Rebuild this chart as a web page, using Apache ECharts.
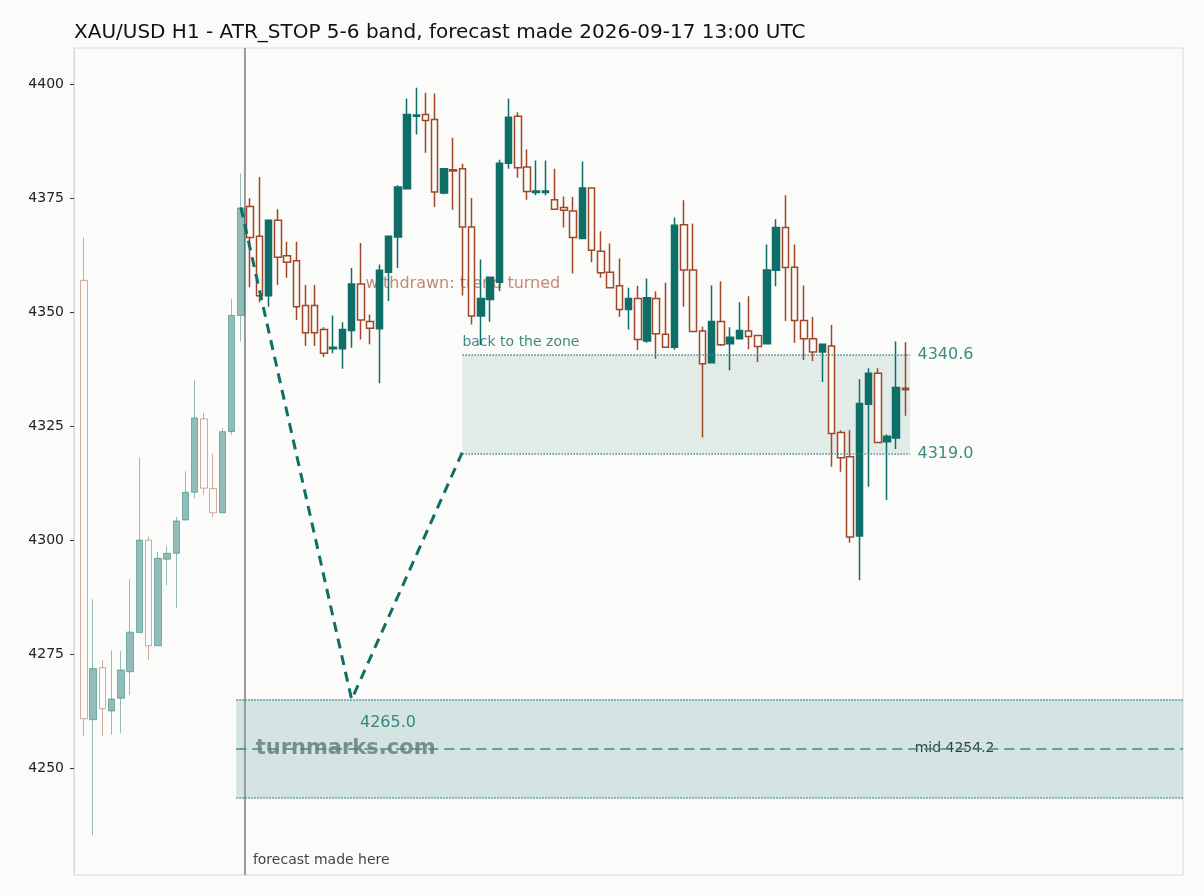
<!DOCTYPE html>
<html><head><meta charset="utf-8">
<script src="https://cdn.jsdelivr.net/npm/echarts@6/dist/echarts.min.js"></script>
<style>html,body{margin:0;padding:0;background:#fbfbf9}#c{width:1204px;height:896px}</style>
</head><body><div id="c"></div>
<script>
const title = "XAU/USD H1 - ATR_STOP 5-6 band, forecast made 2026-09-17 13:00 UTC";
const opens  = [4357,4260.6,4272,4262.5,4265.3,4271.1,4279.7,4300,4276.8,4295.8,4297.1,4304.4,4310.5,4326.6,4311.3,4306,4323.8,4349.3,
 4373.2,4366.7,4353.6,4370.2,4362.4,4361.3,4351.5,4351.5,4346.2,4342,4342,4346,4356.2,4348,4346.4,4358.8,4366.5,4377.1,4393,4393.4,4392.3,4376.2,4381.3,4381.5,4368.7,4349.2,4352.8,4356.6,4382.7,4393,4381.9,4376.3,4376.3,4374.7,4373,4372.2,4366.2,4377.3,4363.4,4358.8,4355.8,4350.6,4353,4343.7,4353,4345.2,4342.3,4369.2,4359.3,4345.9,4338.9,4348,4343.1,4344.2,4345.9,4344.9,4343.1,4359.2,4368.6,4359.9,4348.2,4344.2,4341.3,4342.6,4323.6,4318.3,4300.9,4329.8,4336.6,4321.6,4322.4,4333.3];
const closes = [4260.8,4271.8,4263,4265.1,4271.5,4279.8,4300,4276.8,4296,4297.1,4304.2,4310.5,4326.8,4311.4,4306,4323.8,4349.3,4372.9,
 4366.4,4353.6,4370.2,4362.1,4361,4351.2,4345.5,4345.5,4341,4342.3,4346.2,4356.2,4348.3,4346.5,4359.2,4366.7,4377.5,4393.4,4393.3,4392.1,4376.4,4381.5,4381,4368.7,4349.2,4353,4357.7,4382.7,4392.8,4381.7,4376.5,4376.6,4376.6,4372.6,4372.4,4366.4,4377.3,4363.6,4358.7,4355.4,4350.6,4353,4344,4353.2,4345.3,4342.3,4369.1,4359.3,4345.8,4338.7,4348,4342.9,4344.5,4346,4344.7,4342.5,4359.3,4368.6,4359.8,4348.2,4344.2,4341.3,4343,4323.4,4318.1,4300.7,4330,4336.6,4321.4,4322.8,4333.5,4333];
const lows   = [4257,4235.2,4257,4257.3,4257.7,4266,4279.7,4273.7,4276.8,4290.1,4285.1,4304.4,4309.2,4310,4305.1,4306,4323.1,4343.6,
 4355.5,4352.2,4351.2,4356,4357.6,4348.3,4342.6,4342.6,4340.2,4341,4337.6,4342.2,4344,4343,4334.4,4352.5,4359.7,4377.1,4389,4385,4373.1,4375.9,4372.5,4353.7,4347.3,4342.8,4347.9,4354.6,4381.5,4379.5,4374.7,4375.7,4375.7,4372.6,4368.6,4358.5,4366.2,4361,4357.6,4355.4,4349,4346.2,4341.7,4343.3,4339.8,4342.3,4341.8,4351.2,4345.8,4322.5,4338.9,4342.6,4337.3,4344.2,4341.9,4339.1,4343.1,4355.7,4348.1,4343.3,4339.5,4339.3,4334.7,4316.1,4315,4299.4,4291.2,4311.7,4321.4,4308.8,4320,4327.3];
const highs  = [4366.4,4287,4273.6,4275.8,4275.6,4291.4,4318.1,4300.8,4297.5,4298.7,4305.1,4315.1,4335.2,4327.9,4318.9,4324.6,4352.9,4380.5,
 4375,4379.7,4370.2,4372.6,4365.5,4365.5,4356,4356,4346.7,4349.3,4347.8,4359.7,4365.2,4349.5,4360.5,4366.7,4377.9,4396.9,4399.3,4398.2,4398,4381.5,4388.3,4382.6,4375.1,4361.6,4357.7,4383.5,4396.9,4393.9,4385.7,4383.3,4383.3,4381.5,4375.4,4375.3,4383.1,4377.3,4367.8,4365.1,4361.8,4355.4,4355.8,4357.4,4354.6,4356.5,4370.8,4374.6,4369.5,4346.8,4355.9,4356.8,4346.7,4352.2,4353.5,4344.9,4364.9,4370.4,4375.7,4364.9,4355.9,4349,4343,4347.2,4324.1,4324.1,4335.3,4337.7,4337.7,4323.2,4343.6,4343.4];
const pastCount = 18;
const forecastAt = 17.44;
const pathX = [17, 29, 41];
const pathY = [4373, 4265, 4319.3];
const bandLow = 4243.4, bandHigh = 4265.0, bandMid = 4254.2, bandStart = 16.5;
const zoneLow = 4319.0, zoneHigh = 4340.6, zoneStart = 41, zoneEnd = 89.5;
const yTicks = [4250,4275,4300,4325,4350,4375,4400];

const TEAL = '#0f6e67', RUST = '#a0472a', BG = '#fbfbf9';
const XMIN = -1.08, XMAX = 119.07;
function ohlc(i){return [i, opens[i], closes[i], lows[i], highs[i]];}
const past = [], fut = [];
for (let i=0;i<opens.length;i++) (i<pastCount?past:fut).push(ohlc(i));

const chart = echarts.init(document.getElementById('c'));
const lbl = (x,y,text,style)=>({type:'scatter',symbolSize:0,silent:true,data:[[x,y]],
  label:{show:true,formatter:text,position:'right',distance:0,...style}});
chart.setOption({
  backgroundColor: BG,
  animation:false,
  title:{text:title,left:69,top:18,textStyle:{fontFamily:'DejaVu Sans',fontSize:20,fontWeight:'normal',color:'#111'}},
  grid:{left:74,right:21,top:48,bottom:21,show:true,borderColor:'#d8d8d8',borderWidth:1,backgroundColor:'transparent'},
  xAxis:{type:'value',min:XMIN,max:XMAX,show:false},
  yAxis:{type:'value',min:4226.5,max:4408,splitLine:{show:false},
    axisLine:{show:true,onZero:false,lineStyle:{color:'#d8d8d8'}},
    axisTick:{show:true,customValues:yTicks,length:4,lineStyle:{color:'#333'}},
    axisLabel:{customValues:yTicks,formatter:v=>String(v),fontFamily:'DejaVu Sans',fontSize:14,color:'#222',margin:10}},
  series:[
    {type:'line',silent:true,symbol:'none',data:[[bandStart,bandHigh],[XMAX,bandHigh]],lineStyle:{width:0},
      markArea:{silent:true,itemStyle:{color:'rgba(15,110,103,0.16)'},data:[[{coord:[bandStart,bandLow]},{coord:[XMAX,bandHigh]}]]},
      markLine:{silent:true,symbol:'none',label:{show:false},data:[
        [{coord:[bandStart,bandHigh],lineStyle:{type:'dotted',color:'#3f8a84',width:1.5}},{coord:[XMAX,bandHigh]}],
        [{coord:[bandStart,bandLow],lineStyle:{type:'dotted',color:'#3f8a84',width:1.5}},{coord:[XMAX,bandLow]}],
        [{coord:[bandStart,bandMid],lineStyle:{type:[10,6],color:'#3f8a84',width:1.5}},{coord:[XMAX,bandMid]}]]}},
    {type:'line',silent:true,symbol:'none',data:[[zoneStart,zoneHigh],[zoneEnd,zoneHigh]],lineStyle:{width:0},
      markArea:{silent:true,itemStyle:{color:'rgba(15,110,103,0.11)'},data:[[{coord:[zoneStart,zoneLow]},{coord:[zoneEnd,zoneHigh]}]]},
      markLine:{silent:true,symbol:'none',label:{show:false},data:[
        [{coord:[zoneStart,zoneHigh],lineStyle:{type:'dotted',color:'#3f8a84',width:1.5}},{coord:[zoneEnd,zoneHigh]}],
        [{coord:[zoneStart,zoneLow],lineStyle:{type:'dotted',color:'#3f8a84',width:1.5}},{coord:[zoneEnd,zoneLow]}]]}},
    {type:'line',silent:true,symbol:'none',data:[[forecastAt,4226.5],[forecastAt,4408]],lineStyle:{color:'#999',width:2},z:1},
    {type:'candlestick',data:past,barWidth:7,z:3,
      itemStyle:{color:'rgba(15,110,103,0.45)',color0:'transparent',borderColor:'rgba(15,110,103,0.45)',borderColor0:'rgba(160,71,42,0.45)',borderWidth:1}},
    {type:'candlestick',data:fut,barWidth:7,z:3,
      itemStyle:{color:TEAL,color0:BG,borderColor:TEAL,borderColor0:RUST,borderWidth:1.5}},
    {type:'line',silent:true,symbol:'none',data:pathX.map((x,i)=>[x,pathY[i]]),lineStyle:{color:TEAL,width:3,type:[10,7]},z:4},
    lbl(41,4343.5,'back to the zone',{color:TEAL,fontSize:14,fontFamily:'DejaVu Sans'}),
    lbl(30.5,4356.3,'withdrawn: trend turned',{color:'rgba(160,71,42,0.8)',fontSize:16,fontFamily:'DejaVu Sans'}),
    lbl(29.9,4259.8,'4265.0',{color:TEAL,fontSize:16,fontFamily:'DejaVu Sans'}),
    lbl(90.3,4340.6,'4340.6',{color:TEAL,fontSize:16,fontFamily:'DejaVu Sans'}),
    lbl(90.3,4319.0,'4319.0',{color:TEAL,fontSize:16,fontFamily:'DejaVu Sans'}),
    lbl(90,bandMid,'mid 4254.2',{color:'#111',fontSize:14,fontFamily:'DejaVu Sans'}),
    lbl(18.6,4254.2,'turnmarks.com',{color:'rgba(80,90,90,0.8)',fontSize:21,fontWeight:'bold',fontFamily:'DejaVu Sans'}),
    lbl(18.3,4229.7,'forecast made here',{color:'#111',fontSize:14,fontFamily:'DejaVu Sans'})
  ]
});
</script></body></html>
